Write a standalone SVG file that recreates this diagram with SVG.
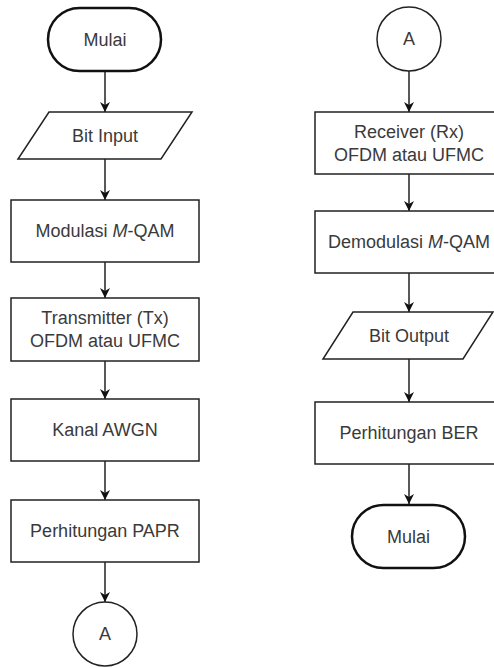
<svg xmlns="http://www.w3.org/2000/svg" width="494" height="668" viewBox="0 0 494 668">
<style>
.n{fill:#fff;stroke:#222;stroke-width:1.5}
.t{fill:#fff;stroke:#111;stroke-width:2.5}
.c{fill:none;stroke:#222;stroke-width:1.5}
text{font-family:"Liberation Sans",Arial,sans-serif;font-size:18px;fill:#3a3a3a;text-anchor:middle;dominant-baseline:central}
.i{font-style:italic}
</style>
<defs>
<marker id="ah" viewBox="0 0 10 10" refX="10" refY="5" markerWidth="11" markerHeight="10" orient="auto" markerUnits="userSpaceOnUse">
<path d="M0,0 L10,5 L0,10 L3,5 z" fill="#111"/>
</marker>
</defs>
<rect width="494" height="668" fill="#fff"/>
<g id="connectors">
<line class="c" x1="105" y1="71" x2="105" y2="112" marker-end="url(#ah)"/>
<line class="c" x1="105" y1="159" x2="105" y2="200" marker-end="url(#ah)"/>
<line class="c" x1="105" y1="262" x2="105" y2="298" marker-end="url(#ah)"/>
<line class="c" x1="105" y1="361" x2="105" y2="399" marker-end="url(#ah)"/>
<line class="c" x1="105" y1="461" x2="105" y2="500" marker-end="url(#ah)"/>
<line class="c" x1="105" y1="562" x2="105" y2="602" marker-end="url(#ah)"/>
<line class="c" x1="409" y1="71" x2="409" y2="112" marker-end="url(#ah)"/>
<line class="c" x1="409" y1="174" x2="409" y2="211" marker-end="url(#ah)"/>
<line class="c" x1="409" y1="273" x2="409" y2="312" marker-end="url(#ah)"/>
<line class="c" x1="409" y1="359" x2="409" y2="402" marker-end="url(#ah)"/>
<line class="c" x1="409" y1="464" x2="409" y2="504" marker-end="url(#ah)"/>
</g>
<g id="start">
<rect class="t" x="48" y="8" width="113" height="63" rx="31.5"/>
<text x="105" y="39.5">Mulai</text>
</g>
<g id="bitInput">
<polygon class="n" points="49,112 192,112 161,159 18,159"/>
<text x="105" y="135.5">Bit Input</text>
</g>
<g id="modulasi">
<rect class="n" x="11" y="200" width="188" height="62"/>
<text x="105" y="231">Modulasi <tspan class="i">M</tspan>-QAM</text>
</g>
<g id="transmitter">
<rect class="n" x="11" y="298" width="188" height="63"/>
<text x="105" y="318">Transmitter (Tx)</text>
<text x="105" y="341">OFDM atau UFMC</text>
</g>
<g id="kanal">
<rect class="n" x="11" y="399" width="188" height="62"/>
<text x="105" y="430">Kanal AWGN</text>
</g>
<g id="papr">
<rect class="n" x="11" y="500" width="188" height="62"/>
<text x="105" y="531">Perhitungan PAPR</text>
</g>
<g id="connA1">
<circle class="n" cx="105" cy="634" r="32"/>
<text x="105" y="634">A</text>
</g>
<g id="connA2">
<circle class="n" cx="409" cy="39" r="32"/>
<text x="409" y="39">A</text>
</g>
<g id="receiver">
<rect class="n" x="315" y="112" width="188" height="62"/>
<text x="409" y="132">Receiver (Rx)</text>
<text x="409" y="155">OFDM atau UFMC</text>
</g>
<g id="demodulasi">
<rect class="n" x="315" y="211" width="188" height="62"/>
<text x="409" y="242">Demodulasi <tspan class="i">M</tspan>-QAM</text>
</g>
<g id="bitOutput">
<polygon class="n" points="353,312 493,312 463,359 323,359"/>
<text x="409" y="335.5">Bit Output</text>
</g>
<g id="ber">
<rect class="n" x="315" y="402" width="188" height="62"/>
<text x="409" y="433">Perhitungan BER</text>
</g>
<g id="end">
<rect class="t" x="352" y="505" width="113" height="63" rx="31.5"/>
<text x="408.5" y="536.5">Mulai</text>
</g>
</svg>
